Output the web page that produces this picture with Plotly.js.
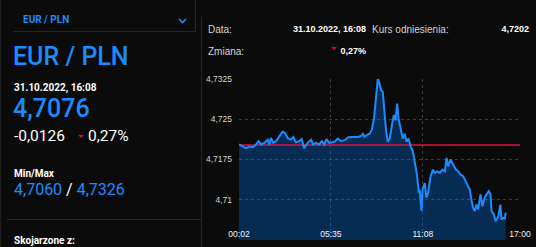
<!DOCTYPE html>
<html>
<head>
<meta charset="utf-8">
<script src="https://cdn.plot.ly/plotly-3.0.1.min.js"></script>
<style>
  html, body { margin:0; padding:0; background:#0b0b0b; width:536px; height:247px; overflow:hidden; }
  body { position:relative; font-family: Roboto, "Liberation Sans", Arial, sans-serif; }
  .t { position:absolute; line-height:1; white-space:nowrap; }
  .blue { color:#1a8cff; }
  .white { color:#ffffff; }
  .hdr { font-family:"Liberation Sans", Arial, sans-serif; color:#d2d2d2; font-size:10px; }
  .hdrb { font-family:"Liberation Sans", Arial, sans-serif; color:#ffffff; font-size:9px; font-weight:bold; }
  .tri { position:absolute; width:0; height:0; border-left:3px solid transparent; border-right:3px solid transparent; border-top:3.5px solid #e3002b; }
  .line { position:absolute; background:#262626; }
  #chart { position:absolute; left:200px; top:60px; width:336px; height:187px; }
</style>
</head>
<body>
<!-- left panel frame -->
<div class="line" style="left:0;top:0;width:1px;height:247px;background:#1e1e1e"></div>
<div style="position:absolute;left:13px;top:-2px;width:182px;height:33px;border-right:1px solid #0f2b47;border-bottom:1px solid #0f2b47;"></div>
<div class="line" style="left:201px;top:17px;width:1px;height:230px;"></div>
<div class="line" style="left:7px;top:219px;width:195px;height:1px;"></div>

<div class="t blue" style="left:23px;top:14.7px;font-size:10px;font-weight:bold;">EUR / PLN</div>
<svg style="position:absolute;left:178px;top:18px" width="9" height="6"><polyline points="1,1 4.5,4.5 8,1" fill="none" stroke="#1a8cff" stroke-width="1.6"/></svg>

<div class="t blue" style="left:13px;top:43.7px;font-size:25px;font-weight:500;">EUR / PLN</div>
<div class="t white" style="left:14px;top:82.7px;font-size:10px;font-weight:bold;">31.10.2022, 16:08</div>
<div class="t blue" style="left:13px;top:95.8px;font-size:25px;font-weight:500;">4,7076</div>
<div class="t white" style="left:14px;top:129px;font-size:15.5px;">-0,0126</div>
<div class="tri" style="left:78px;top:134.5px;"></div>
<div class="t white" style="left:88px;top:129px;font-size:15.5px;">0,27%</div>
<div class="t white" style="left:14px;top:169.4px;font-size:10px;font-weight:bold;">Min/Max</div>
<div class="t" style="left:14px;top:182px;font-size:16px;"><span class="blue">4,7060</span><span class="white"> / </span><span class="blue">4,7326</span></div>
<div class="t white" style="left:14px;top:235.7px;font-size:10px;font-weight:bold;">Skojarzone z:</div>

<!-- right header -->
<div class="t hdr" style="left:208px;top:24.7px;">Data:</div>
<div class="t hdrb" style="right:170px;top:24.8px;">31.10.2022, 16:08</div>
<div class="t hdr" style="left:372px;top:24.7px;">Kurs odniesienia:</div>
<div class="t hdrb" style="right:7px;top:24.8px;">4,7202</div>
<div class="t hdr" style="left:208px;top:46.7px;">Zmiana:</div>
<div class="tri" style="left:331px;top:47px;"></div>
<div class="t hdrb" style="right:170px;top:46.8px;">0,27%</div>

<div id="chart"></div>
<script>
const day = '2022-10-31 ';
const times = ['00:02','00:15','00:27','00:39','00:52','01:04','01:13','01:22','01:34','01:46',
'01:52','01:58','02:06','02:16','02:28','02:40','02:50','02:58','03:10','03:19',
'03:28','03:40','03:49','03:58','04:11','04:23','04:31','04:41','04:53','05:02',
'05:11','05:19','05:29','05:39','05:48','06:00','06:12','06:25','06:37','06:49',
'07:01','07:13','07:25','07:31','07:37','07:46','07:55','08:03','08:11','08:18',
'08:25','08:31','08:37','08:43','08:49','08:55','09:01','09:08','09:16','09:23',
'09:29','09:35','09:40','09:47','09:55','10:02','10:09','10:16','10:24','10:32',
'10:40','10:47','10:53','10:57','11:03','11:07','11:15','11:21','11:27','11:36',
'11:45','11:51','12:00','12:10','12:19','12:28','12:34','12:40','12:48','12:58',
'13:08','13:16','13:25','13:34','13:44','13:52','13:58','14:04','14:10','14:16',
'14:22','14:28','14:37','14:44','14:52','14:59','15:07','15:13','15:17','15:25',
'15:32','15:41','15:49','15:53','15:59','16:05','16:08'];
const rates = [4.7203,4.7199,4.7196,4.7199,4.7198,4.7203,4.7209,4.7203,4.7206,4.7212,
4.7203,4.7215,4.7206,4.7209,4.7218,4.7227,4.7224,4.7215,4.7212,4.7217,
4.7207,4.7209,4.7213,4.7196,4.7206,4.7212,4.7203,4.7206,4.7203,4.7209,
4.7203,4.7213,4.7206,4.7207,4.7208,4.7214,4.7209,4.7211,4.7216,4.7217,
4.7217,4.7217,4.7219,4.7223,4.7217,4.7221,4.7223,4.7230,4.7251,4.7288,
4.7326,4.7316,4.7304,4.7301,4.7264,4.7227,4.7208,4.7214,4.7239,4.7258,
4.7248,4.7279,4.7251,4.7233,4.7214,4.7223,4.7208,4.7214,4.7199,4.7190,
4.7168,4.7146,4.7115,4.7116,4.7079,4.7119,4.7131,4.7104,4.7113,4.7144,
4.7156,4.7150,4.7153,4.7150,4.7156,4.7153,4.7178,4.7162,4.7175,4.7165,
4.7156,4.7153,4.7147,4.7144,4.7134,4.7125,4.7119,4.7100,4.7085,4.7079,
4.7091,4.7082,4.7110,4.7088,4.7104,4.7110,4.7116,4.7110,4.7079,4.7073,
4.7060,4.7068,4.7091,4.7063,4.7066,4.7065,4.7076];
const referenceRate = 4.7202;
const sessionStart = '00:02';
const sessionEnd = '17:00';
const xTickLabels = ['00:02','05:35','11:08','17:00'];
const yTickValues = [4.7025, 4.71, 4.7175, 4.725, 4.7325];
const yTickLabels = ['', '4,71','4,7175','4,725','4,7325'];
const yRange = [4.7025, 4.7325];

const xs = times.map(t => day + t);

const traces = [
  { x: xs, y: rates, type:'scatter', mode:'lines', fill:'tozeroy',
    fillcolor:'rgba(0,122,255,0.3)', line:{width:0, color:'rgba(0,0,0,0)'}, hoverinfo:'skip', showlegend:false },
  { x: [day+sessionStart, day+sessionEnd], y: [referenceRate, referenceRate], type:'scatter', mode:'lines',
    line:{color:'#dc1040', width:1.5}, hoverinfo:'skip', showlegend:false },
  { x: xs, y: rates, type:'scatter', mode:'lines',
    line:{color:'#1a8cff', width:2}, showlegend:false }
];

const layout = {
  width:336, height:187,
  margin:{l:39, r:16, t:19, b:7, pad:0},
  paper_bgcolor:'rgba(0,0,0,0)', plot_bgcolor:'rgba(0,0,0,0)',
  font:{family:'"Liberation Sans", Arial, sans-serif', size:8.5, color:'#d4d4d4'},
  xaxis:{
    type:'date', range:[day+sessionStart, day+sessionEnd],
    tickvals: xTickLabels.map(t => day + t), ticktext: xTickLabels,
    tickfont:{color:'#f2f2f2', size:8.5},
    ticklabelposition:'inside', ticklabeloverflow:'allow', ticklabelstandoff:-2,
    showgrid:true, gridcolor:'#3c3c3c', griddash:'dot', gridwidth:1,
    zeroline:false, showline:false, ticks:'', fixedrange:true
  },
  yaxis:{
    range: yRange, tickvals: yTickValues, ticktext: yTickLabels,
    ticklabelshift: -5.5, ticklabelstandoff: 6,
    showgrid:true, gridcolor:'#3c3c3c', griddash:'dot', gridwidth:1,
    zeroline:false, showline:false, ticks:'', fixedrange:true
  },
  showlegend:false
};

Plotly.newPlot('chart', traces, layout, {staticPlot:true, displayModeBar:false});
</script>
</body>
</html>
